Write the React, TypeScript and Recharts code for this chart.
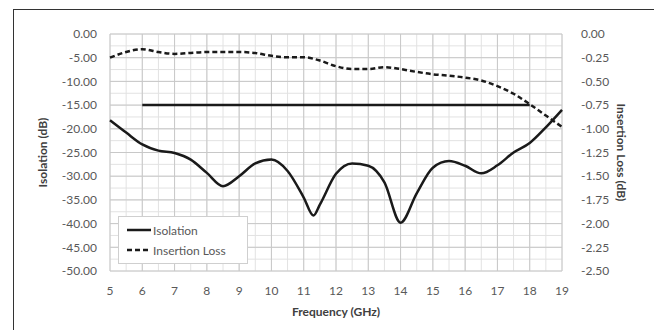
import { CartesianGrid, Legend, Line, LineChart, XAxis, YAxis } from "recharts";

// isolation (left axis, dB)
const isoFreq = [5, 5.5, 6, 6.5, 7, 7.5, 8, 8.5, 9, 9.5, 10, 10.5, 11, 11.3, 11.5, 12, 12.5, 13, 13.5, 14, 14.5, 15, 15.5, 16, 16.5, 17, 17.5, 18, 18.5, 19];
const isolation = [-18.2, -20.8, -23.3, -24.6, -25.1, -26.5, -29.3, -32.1, -30.0, -27.3, -26.5, -28.9, -34.5, -38.3, -36.0, -29.5, -27.3, -27.8, -31.3, -39.8, -33.6, -28.2, -26.8, -27.8, -29.4, -27.7, -25.0, -23.0, -19.7, -16.0];

// insertion loss (right axis, dB)
const ilFreq = [5, 5.5, 6, 6.5, 7, 7.5, 8, 8.5, 9, 9.5, 10, 10.5, 11, 11.5, 12, 12.5, 13, 13.5, 14, 14.5, 15, 15.5, 16, 16.5, 17, 17.5, 18, 18.5, 19];
const insertionLoss = [-0.25, -0.19, -0.16, -0.19, -0.21, -0.2, -0.19, -0.19, -0.19, -0.2, -0.23, -0.245, -0.245, -0.28, -0.34, -0.37, -0.37, -0.35, -0.37, -0.4, -0.425, -0.44, -0.46, -0.49, -0.55, -0.63, -0.74, -0.86, -0.98];

// -15 dB spec line
const limitFreq = [6, 18];
const limitLevel = [-15, -15];

const freqDomain = [5, 19];
const isoDomain = [-50, 0];
const freqTicks = [5, 6, 7, 8, 9, 10, 11, 12, 13, 14, 15, 16, 17, 18, 19];
const freqMinor = [5, 5.5, 6, 6.5, 7, 7.5, 8, 8.5, 9, 9.5, 10, 10.5, 11, 11.5, 12, 12.5, 13, 13.5, 14, 14.5, 15, 15.5, 16, 16.5, 17, 17.5, 18, 18.5, 19];
const isoTicks = [0, -5, -10, -15, -20, -25, -30, -35, -40, -45, -50];
const isoMinor = [0, -2.5, -5, -7.5, -10, -12.5, -15, -17.5, -20, -22.5, -25, -27.5, -30, -32.5, -35, -37.5, -40, -42.5, -45, -47.5, -50];
const ilTicks = [0, -0.25, -0.5, -0.75, -1, -1.25, -1.5, -1.75, -2, -2.25, -2.5];
const legendOrder = ["Isolation", "Insertion Loss"];

const isoData = isoFreq.map((f, i) => ({ f, v: isolation[i] }));
const ilData = ilFreq.map((f, i) => ({ f, v: insertionLoss[i] }));
const limitData = limitFreq.map((f, i) => ({ f, v: limitLevel[i] }));

const font = "Lato, 'Open Sans', sans-serif";
const tickStyle = { fill: "#595959", fontSize: 12, fontFamily: font };
const titleStyle = { fill: "#404040", fontSize: 12, fontWeight: 700, fontFamily: font, textAnchor: "middle" as const };

// grid lines at the given axis values, mapped into the plot box
const vGen = (vals: number[]) => ({ offset }: any) =>
  vals.map((v) => offset.left + ((v - freqDomain[0]) / (freqDomain[1] - freqDomain[0])) * offset.width);
const hGen = (vals: number[]) => ({ offset }: any) =>
  vals.map((v) => offset.top + ((isoDomain[1] - v) / (isoDomain[1] - isoDomain[0])) * offset.height);

function LeftTitle({ viewBox }: any) {
  const x = 43;
  const y = viewBox.y + viewBox.height / 2;
  return (
    <text x={x} y={y} dy={4} transform={`rotate(-90, ${x}, ${y})`} style={titleStyle}>
      Isolation (dB)
    </text>
  );
}

function LegendBox({ payload }: any) {
  const items = (payload || [])
    .filter((p: any) => legendOrder.includes(p.value))
    .sort((a: any, b: any) => legendOrder.indexOf(a.value) - legendOrder.indexOf(b.value));
  return (
    <div style={{ border: "1.5px solid #cfcfcf", background: "#fff", padding: "3px 8px", fontFamily: font, fontSize: 12, color: "#595959" }}>
      {items.map((p: any) => (
        <div key={p.value} style={{ display: "flex", alignItems: "center", height: 20 }}>
          <svg width={24} height={6} style={{ marginRight: 2 }}>
            <line x1={0} y1={3} x2={24} y2={3} stroke="#1a1a1a" strokeWidth={2.5} strokeDasharray={p.payload?.strokeDasharray} />
          </svg>
          <span>{p.value}</span>
        </div>
      ))}
    </div>
  );
}

export default function App() {
  return (
    <div style={{ position: "absolute", left: 0, top: 0, width: 654, height: 330, background: "#fff", overflow: "hidden" }}>
      <div style={{ position: "absolute", left: 13, top: 9, width: 660, height: 340, borderTop: "1.5px solid #333", borderLeft: "1.5px solid #333" }} />
      <div style={{ position: "absolute", left: 0, top: 0 }}>
        <LineChart width={654} height={330} margin={{ top: 34, right: 0, bottom: 14, left: 0 }}>
          <CartesianGrid xAxisId="x" yAxisId="iso" stroke="#e2e2e2" verticalCoordinatesGenerator={vGen(freqMinor)} horizontalCoordinatesGenerator={hGen(isoMinor)} />
          <CartesianGrid xAxisId="x" yAxisId="iso" stroke="#c8c8c8" verticalCoordinatesGenerator={vGen(freqTicks)} horizontalCoordinatesGenerator={hGen(isoTicks)} />
          <XAxis
            xAxisId="x"
            dataKey="f"
            type="number"
            domain={freqDomain}
            ticks={freqTicks}
            axisLine={false}
            tickLine={false}
            tickMargin={9}
            height={45}
            tick={tickStyle}
            label={{ value: "Frequency (GHz)", position: "insideBottom", offset: 0, style: titleStyle }}
          />
          <YAxis
            yAxisId="iso"
            orientation="left"
            type="number"
            domain={isoDomain}
            ticks={isoTicks}
            tickFormatter={(v: number) => v.toFixed(2)}
            axisLine={false}
            tickLine={false}
            tickMargin={7}
            width={110}
            tick={tickStyle}
            label={{ value: "Isolation (dB)", content: <LeftTitle /> }}
          />
          <YAxis
            yAxisId="il"
            orientation="right"
            type="number"
            domain={[-2.5, 0]}
            ticks={ilTicks}
            tickFormatter={(v: number) => v.toFixed(2)}
            axisLine={false}
            tickLine={false}
            tickMargin={13}
            width={92}
            tick={{ ...tickStyle, textAnchor: "start" }}
            label={{ value: "Insertion Loss (dB)", angle: 90, position: "insideRight", offset: 33, style: titleStyle }}
          />
          <Line xAxisId="x" yAxisId="iso" data={limitData} dataKey="v" name="Limit" type="linear" stroke="#1a1a1a" strokeWidth={2.5} dot={false} legendType="none" isAnimationActive={false} />
          <Line xAxisId="x" yAxisId="iso" data={isoData} dataKey="v" name="Isolation" type="monotone" stroke="#1a1a1a" strokeWidth={2.5} dot={false} isAnimationActive={false} />
          <Line xAxisId="x" yAxisId="il" data={ilData} dataKey="v" name="Insertion Loss" type="monotone" stroke="#1a1a1a" strokeWidth={2.5} strokeDasharray="5 3" dot={false} isAnimationActive={false} />
          <Legend
            layout="vertical"
            align="center"
            verticalAlign="middle"
            content={<LegendBox />}
            wrapperStyle={{ left: 118, top: 216, width: 130 }}
          />
        </LineChart>
      </div>
    </div>
  );
}
